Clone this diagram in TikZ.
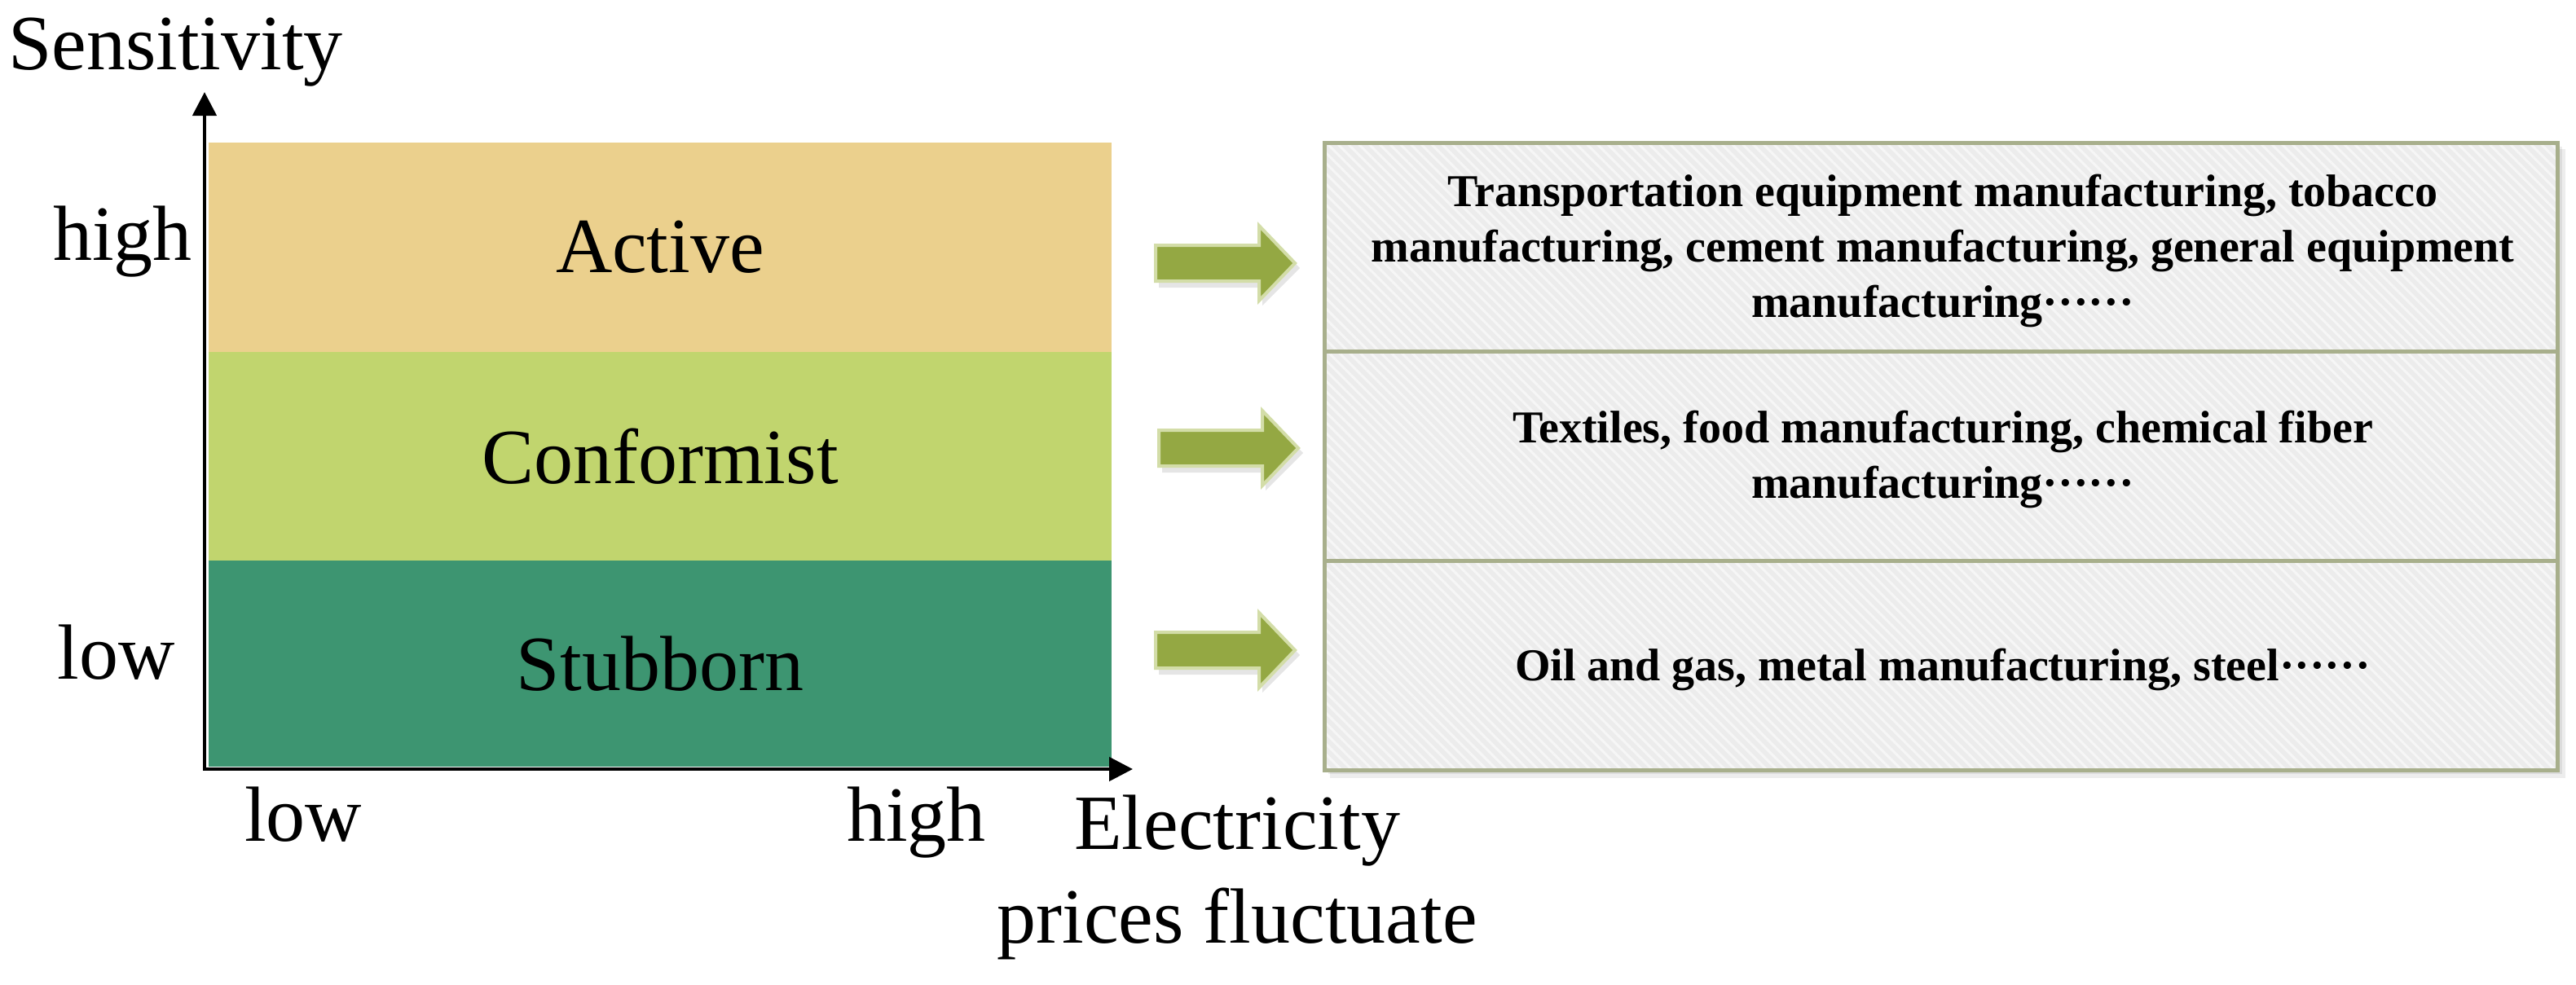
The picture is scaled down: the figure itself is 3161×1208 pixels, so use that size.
\documentclass[tikz,border=0pt]{standalone}
\usepackage{fontspec}
\setmainfont{Liberation Serif}
\usetikzlibrary{arrows.meta,patterns.meta}
\definecolor{cActive}{HTML}{EBD08D}
\definecolor{cConf}{HTML}{C1D56E}
\definecolor{cStub}{HTML}{3D9571}
\definecolor{cArrow}{HTML}{94A843}
\definecolor{cArrowEdge}{HTML}{D3DDA8}
\definecolor{cBoxEdge}{HTML}{A8AF8C}
\definecolor{cBoxFill}{HTML}{ECECEC}
\tikzset{
  bigtext/.style={font=\fontsize{96}{110}\selectfont, inner sep=0pt},
  band/.style={bigtext, minimum width=1108pt, outer sep=0pt},
  axisline/.style={line width=4.5pt, -{Triangle[length=29pt,width=29pt]}},
  rowbox/.style={preaction={fill=cBoxFill},
    pattern={Lines[angle=-45,distance=9pt,line width=3pt]}, pattern color=white!55!cBoxFill,
    draw=cBoxEdge, line width=5pt,
    minimum width=1513pt, inner sep=0pt},
  rowtext/.style={align=center, inner sep=0pt,
    font=\fontsize{56}{68}\selectfont\bfseries},
  garrow/.pic={
    \fill[black, opacity=.10] (4,-18) -- (131,-18) -- (131,-42) -- (177,6) -- (131,52) -- (131,30) -- (4,30) -- cycle;
    \draw[cArrowEdge, line width=4pt, fill=cArrow, line join=miter]
      (0,-22) -- (127,-22) -- (127,-46) -- (171,0) -- (127,46) -- (127,22) -- (0,22) -- cycle;
  }
}
\begin{document}
\begin{tikzpicture}[x=1pt,y=-1pt]
\useasboundingbox[fill=white] (0,0) rectangle (3161,1208);

% bands
\node[band, fill=cActive, minimum height=257pt] (active) at (810,303.5) {Active};
\node[band, fill=cConf, minimum height=256pt] (conf) at (810,560) {Conformist};
\node[band, fill=cStub, minimum height=253pt] (stub) at (810,814.5) {Stubborn};

% axes
\coordinate (O) at (251,944);
\coordinate (ytip) at (251,113);
\coordinate (xtip) at (1390,944);
\draw[axisline] (251,946) -- (ytip);
\draw[axisline] (249,944) -- (xtip);

% axis labels
\node[bigtext, anchor=base west] (ylab) at (10,85) {Sensitivity};
\node[bigtext, anchor=base east] (yhigh) at (236,319) {high};
\node[bigtext, anchor=base east] (ylow) at (215,833) {low};
\node[bigtext, anchor=base west] (xlow) at (300,1032) {low};
\node[bigtext, anchor=base west] (xhigh) at (1039,1032) {high};
\node[bigtext, anchor=base] (xlab1) at (1518,1042) {Electricity};
\node[bigtext, anchor=base] (xlab2) at (1518,1157) {prices fluctuate};

% right box shadow
\fill[black, opacity=.07] (1632,183) rectangle (3148,955);
\fill[black, opacity=.07] (1630,180) rectangle (3144,950);

% rows
\node[rowbox, minimum height=256pt] (r1) at (2381.5,303) {};
\node[rowbox, minimum height=257pt] (r2) at (2381.5,559.5) {};
\node[rowbox, minimum height=257pt] (r3) at (2381.5,816.5) {};
\node[rowtext] (t1) at (2384,308)
  {Transportation equipment manufacturing, tobacco\\manufacturing, cement manufacturing, general equipment\\manufacturing······};
\node[rowtext] (t2) at (2384,564)
  {Textiles, food manufacturing, chemical fiber\\manufacturing······};
\node[rowtext] (t3) at (2384,822)
  {Oil and gas, metal manufacturing, steel······};

% arrows
\pic (a1) at (1418,323) {garrow};
\pic (a2) at (1422,550) {garrow};
\pic (a3) at (1418,798) {garrow};
\end{tikzpicture}
\end{document}
